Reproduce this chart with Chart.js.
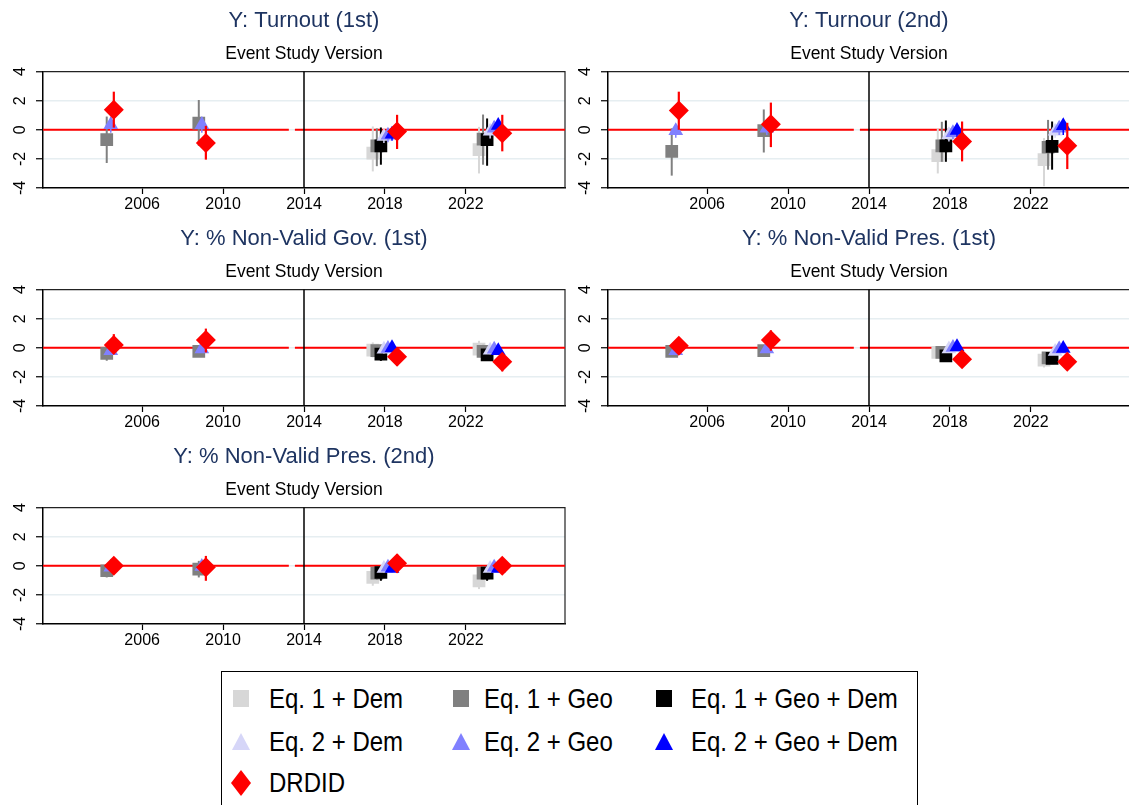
<!DOCTYPE html>
<html>
<head>
<meta charset="utf-8">
<script src="https://cdn.jsdelivr.net/npm/chart.js@4.4.1/dist/chart.umd.min.js"></script>
<style>
  html, body { margin: 0; padding: 0; background: #fff; overflow: hidden; width: 1129px; height: 805px; }
  .panel { position: absolute; }
  #legend {
    position: absolute; left: 221px; top: 671px; width: 697px; height: 150px;
    border: 1.5px solid #000; box-sizing: border-box;
    font-family: "Liberation Sans", Arial, sans-serif; font-size: 24px; color: #000;
  }
  .item { position: absolute; height: 30px; }
  .item svg { position: absolute; top: 0; }
  .item span { position: absolute; top: 0; line-height: 30px; white-space: nowrap;
               transform: scaleY(1.18); transform-origin: 0 55%; }
</style>
</head>
<body>
<div class="panel" style="left:0;top:0"><canvas id="c0" width="575" height="218"></canvas></div>
<div class="panel" style="left:565px;top:0"><canvas id="c1" width="575" height="218"></canvas></div>
<div class="panel" style="left:0;top:218px"><canvas id="c2" width="575" height="218"></canvas></div>
<div class="panel" style="left:565px;top:218px"><canvas id="c3" width="575" height="218"></canvas></div>
<div class="panel" style="left:0;top:436px"><canvas id="c4" width="575" height="218"></canvas></div>
<div id="legend"></div>

<script>
// ---- axis settings ----
const xTicks = [2006, 2010, 2014, 2018, 2022];
const yTicks = [-4, -2, 0, 2, 4];
const treatmentYear = 2014;

// ---- series ----
const seriesNames  = ['Eq. 1 + Dem', 'Eq. 1 + Geo', 'Eq. 1 + Geo + Dem',
                      'Eq. 2 + Dem', 'Eq. 2 + Geo', 'Eq. 2 + Geo + Dem', 'DRDID'];
const seriesColors = ['#d7d7d7', '#808080', '#000000', '#d6d6f8', '#8080ff', '#0000ff', '#ff0000'];
const seriesShapes = ['rect', 'rect', 'rect', 'triangle', 'triangle', 'triangle', 'rectRot'];

// x position (year, with small dodge) of each series in the four election clusters
const xEq1Dem    = [null,    null,    2017.4,  2022.65];
const xEq1Geo    = [2004.25, 2008.8,  2017.6,  2022.85];
const xEq1GeoDem = [null,    null,    2017.8,  2023.05];
const xEq2Dem    = [null,    null,    2017.95, 2023.2];
const xEq2Geo    = [2004.45, 2008.95, 2018.15, 2023.4];
const xEq2GeoDem = [null,    null,    2018.35, 2023.6];
const xDRDID     = [2004.6,  2009.15, 2018.6,  2023.8];
const xPositions = [xEq1Dem, xEq1Geo, xEq1GeoDem, xEq2Dem, xEq2Geo, xEq2GeoDem, xDRDID];

// ---- Y: Turnout (1st) ----
const turnout1Est = [[null, null, -1.6, -1.37], [-0.68, 0.46, -1.1, -0.64], [null, null, -1.1, -0.68],
                     [null, null, -0.46, -0.1], [0.34, 0.35, -0.38, 0.1], [null, null, -0.3, 0.3],
                     [1.37, -0.91, -0.11, -0.23]];
const turnout1Lo  = [[null, null, -2.86, -3.0], [-2.28, -1.1, -2.5, -2.4], [null, null, -2.4, -2.47],
                     [null, null, -0.9, -0.6], [-0.2, -0.2, -0.85, -0.4], [null, null, -0.75, -0.15],
                     [0.15, -2.05, -1.32, -1.48]];
const turnout1Hi  = [[null, null, 0.23, 0.2], [0.91, 2.05, 0.1, 1.05], [null, null, 0.16, 0.78],
                     [null, null, 0.0, 0.4], [0.9, 0.9, 0.1, 0.6], [null, null, 0.15, 0.75],
                     [2.62, 0.27, 1.03, 1.03]];

// ---- Y: Turnour (2nd) ----
const turnout2Est = [[null, null, -1.78, -2.05], [-1.48, -0.05, -1.1, -1.2], [null, null, -1.1, -1.14],
                     [null, null, -0.34, -0.1], [-0.07, 0.1, -0.2, 0.1], [null, null, -0.05, 0.27],
                     [1.32, 0.39, -0.8, -1.1]];
const turnout2Lo  = [[null, null, -3.0, -3.88], [-3.15, -1.56, -2.2, -2.74], [null, null, -2.2, -2.74],
                     [null, null, -0.8, -0.55], [-0.55, -0.35, -0.65, -0.35], [null, null, -0.5, -0.35],
                     [0.0, -1.19, -2.17, -2.7]];
const turnout2Hi  = [[null, null, 0.09, -0.57], [0.1, 1.4, 0.55, 0.68], [null, null, 0.64, 0.57],
                     [null, null, 0.15, 0.35], [0.3, 0.5, 0.25, 0.55], [null, null, 0.4, 0.7],
                     [2.62, 1.87, 0.57, 0.48]];

// ---- Y: % Non-Valid Gov. (1st) ----
const gov1Est = [[null, null, -0.16, -0.09], [-0.39, -0.25, -0.2, -0.25], [null, null, -0.43, -0.48],
                 [null, null, -0.1, -0.16], [-0.2, -0.09, -0.05, -0.1], [null, null, 0.0, -0.2],
                 [0.2, 0.53, -0.62, -0.96]];
const gov1Lo  = [[null, null, -0.66, -0.62], [-0.89, -0.62, -0.6, -0.65], [null, null, -0.9, -0.9],
                 [null, null, -0.4, -0.45], [-0.45, -0.35, -0.35, -0.4], [null, null, -0.3, -0.5],
                 [-0.43, -0.32, -1.23, -1.62]];
const gov1Hi  = [[null, null, 0.37, 0.48], [0.14, 0.14, 0.2, 0.2], [null, null, 0.0, -0.1],
                 [null, null, 0.2, 0.15], [0.05, 0.15, 0.25, 0.2], [null, null, 0.3, 0.1],
                 [0.94, 1.32, -0.1, -0.48]];

// ---- Y: % Non-Valid Pres. (1st) ----
const pres1Est = [[null, null, -0.32, -0.84], [-0.25, -0.2, -0.32, -0.7], [null, null, -0.55, -0.73],
                  [null, null, -0.09, -0.25], [-0.2, -0.09, 0.02, -0.09], [null, null, 0.07, -0.05],
                  [0.14, 0.53, -0.78, -0.96]];
const pres1Lo  = [[null, null, -0.7, -1.35], [-0.6, -0.55, -0.7, -1.1], [null, null, -0.9, -1.1],
                  [null, null, -0.35, -0.5], [-0.45, -0.35, -0.25, -0.35], [null, null, -0.2, -0.3],
                  [-0.32, -0.2, -1.3, -1.39]];
const pres1Hi  = [[null, null, 0.05, -0.43], [0.1, 0.15, 0.05, -0.3], [null, null, -0.2, -0.35],
                  [null, null, 0.15, 0.0], [0.05, 0.15, 0.3, 0.15], [null, null, 0.35, 0.2],
                  [0.6, 1.2, -0.32, -0.55]];

// ---- Y: % Non-Valid Pres. (2nd) ----
const pres2Est = [[null, null, -0.8, -1.03], [-0.34, -0.23, -0.5, -0.5], [null, null, -0.46, -0.5],
                  [null, null, -0.18, -0.18], [-0.1, -0.05, -0.1, -0.1], [null, null, -0.18, -0.18],
                  [0.0, -0.1, 0.18, 0.0]];
const pres2Lo  = [[null, null, -1.37, -1.6], [-0.8, -0.8, -0.95, -0.95], [null, null, -1.03, -1.03],
                  [null, null, -0.45, -0.45], [-0.35, -0.3, -0.35, -0.35], [null, null, -0.45, -0.45],
                  [-0.45, -1.03, -0.5, -0.4]];
const pres2Hi  = [[null, null, -0.34, -0.57], [0.1, 0.34, -0.05, -0.05], [null, null, 0.0, 0.0],
                  [null, null, 0.1, 0.1], [0.15, 0.2, 0.15, 0.15], [null, null, 0.1, 0.1],
                  [0.45, 0.68, 0.8, 0.4]];

const panelTitles = ['Y: Turnout (1st)', 'Y: Turnour (2nd)', 'Y: % Non-Valid Gov. (1st)',
                     'Y: % Non-Valid Pres. (1st)', 'Y: % Non-Valid Pres. (2nd)'];
const panelSubtitle = 'Event Study Version';

const FONT = '"Liberation Sans", Arial, sans-serif';
const markerRadius = [9, 9, 9, 8.5, 8.5, 8.5, 10];
const barWidths = [2, 2, 2, 1.5, 1.5, 1.5, 2.2];

// vertical confidence bars, drawn just beneath each series' markers
const ciBars = {
  id: 'ciBars',
  beforeDatasetDraw(chart, args) {
    const ds = chart.data.datasets[args.index];
    const ys = chart.scales.y;
    const ctx = chart.ctx;
    ctx.save();
    ctx.strokeStyle = ds.backgroundColor;
    ctx.lineWidth = ds.ciWidth;
    args.meta.data.forEach((pt, i) => {
      const d = ds.data[i];
      ctx.beginPath();
      ctx.moveTo(pt.x, ys.getPixelForValue(d.lo));
      ctx.lineTo(pt.x, ys.getPixelForValue(d.hi));
      ctx.stroke();
    });
    ctx.restore();
  }
};

// zero line, treatment line and the frame around the plot region
const refLines = {
  id: 'refLines',
  beforeDatasetsDraw(chart) {
    const {ctx, chartArea: a, scales: {x, y}} = chart;
    ctx.save();
    // frame (top / right)
    ctx.strokeStyle = '#222';
    ctx.lineWidth = 1.2;
    ctx.beginPath();
    ctx.moveTo(a.left, a.top); ctx.lineTo(a.right, a.top); ctx.lineTo(a.right, a.bottom);
    ctx.stroke();
    // zero line (split just before the treatment year)
    const y0 = y.getPixelForValue(0);
    ctx.strokeStyle = '#ff0000';
    ctx.lineWidth = 2;
    ctx.beginPath();
    ctx.moveTo(a.left, y0); ctx.lineTo(x.getPixelForValue(treatmentYear - 0.75), y0);
    ctx.moveTo(x.getPixelForValue(treatmentYear - 0.45), y0); ctx.lineTo(a.right, y0);
    ctx.stroke();
    // treatment year
    const xt = x.getPixelForValue(treatmentYear);
    ctx.strokeStyle = '#000';
    ctx.lineWidth = 1.5;
    ctx.beginPath();
    ctx.moveTo(xt, a.top); ctx.lineTo(xt, a.bottom);
    ctx.stroke();
    ctx.restore();
  }
};

function buildDatasets(est, lo, hi) {
  return seriesNames.map((name, s) => ({
    label: name,
    data: est[s].map((v, k) => v === null ? null :
      {x: xPositions[s][k], y: v, lo: lo[s][k], hi: hi[s][k]}).filter(Boolean),
    backgroundColor: seriesColors[s],
    borderColor: seriesColors[s],
    borderWidth: 0,
    pointStyle: seriesShapes[s],
    pointRadius: markerRadius[s],
    ciWidth: barWidths[s],
    order: seriesNames.length - s
  }));
}

function makePanel(id, title, est, lo, hi) {
  new Chart(document.getElementById(id), {
    type: 'scatter',
    data: {datasets: buildDatasets(est, lo, hi)},
    plugins: [refLines, ciBars],
    options: {
      responsive: false,
      animation: false,
      events: [],
      layout: {padding: {left: 0, right: 6, top: 0, bottom: 0}},
      plugins: {
        legend: {display: false},
        tooltip: {enabled: false},
        title: {display: true, text: title, color: '#1e3461', fullSize: false,
                font: {size: 22, family: FONT, weight: 'normal'}, padding: {top: 7.4, bottom: 9.8}},
        subtitle: {display: true, text: panelSubtitle, color: '#000', fullSize: false,
                   font: {size: 17.5, family: FONT, weight: 'normal'}, padding: {top: 0, bottom: 7}}
      },
      scales: {
        x: {
          type: 'linear', min: 2001.1, max: 2026.9,
          afterBuildTicks: s => { s.ticks = xTicks.map(v => ({value: v})); },
          afterFit: s => { s.height = 30; },
          ticks: {color: '#000', font: {size: 16, family: FONT}, padding: 1,
                  maxRotation: 0, callback: v => String(v)},
          grid: {drawOnChartArea: false, tickColor: '#000', tickLength: 6, tickWidth: 1.2},
          border: {color: '#000', width: 1.5}
        },
        y: {
          type: 'linear', min: -4, max: 4,
          afterBuildTicks: s => { s.ticks = yTicks.map(v => ({value: v})); },
          afterFit: s => { s.width = 43; },
          ticks: {color: '#000', font: {size: 16, family: FONT}, padding: 8,
                  minRotation: 90, maxRotation: 90, crossAlign: 'center',
                  callback: v => String(v)},
          grid: {
            color: c => (c.tick && Math.abs(c.tick.value) < 3) ? '#e6eef1' : 'rgba(0,0,0,0)',
            lineWidth: 1.5, tickColor: '#000', tickLength: 7, tickWidth: 1.2
          },
          border: {color: '#000', width: 1.5}
        }
      }
    }
  });
}

makePanel('c0', panelTitles[0], turnout1Est, turnout1Lo, turnout1Hi);
makePanel('c1', panelTitles[1], turnout2Est, turnout2Lo, turnout2Hi);
makePanel('c2', panelTitles[2], gov1Est, gov1Lo, gov1Hi);
makePanel('c3', panelTitles[3], pres1Est, pres1Lo, pres1Hi);
makePanel('c4', panelTitles[4], pres2Est, pres2Lo, pres2Hi);

// ---- legend ----
const legendCols = [19, 239, 442];   // marker centre inside the box
const legendRows = [27, 70, 111];
function markerSvg(shape, color) {
  if (shape === 'rect')
    return `<svg width="24" height="30" style="left:-12px"><rect x="4" y="6" width="16" height="17" fill="${color}"/></svg>`;
  if (shape === 'triangle')
    return `<svg width="24" height="30" style="left:-12px"><polygon points="12,6 21,23 3,23" fill="${color}"/></svg>`;
  return `<svg width="24" height="30" style="left:-12px"><polygon points="12,2 22,15 12,28 2,15" fill="${color}"/></svg>`;
}
const legendEl = document.getElementById('legend');
seriesNames.forEach((name, s) => {
  const col = s % 3, row = Math.floor(s / 3);
  const div = document.createElement('div');
  div.className = 'item';
  div.style.left = legendCols[col] + 'px';
  div.style.top = (legendRows[row] - 15) + 'px';
  div.innerHTML = markerSvg(seriesShapes[s], seriesColors[s]) +
                  `<span style="left:${col === 0 ? 28 : (col === 1 ? 23 : 27)}px">${name}</span>`;
  legendEl.appendChild(div);
});
</script>
</body>
</html>
